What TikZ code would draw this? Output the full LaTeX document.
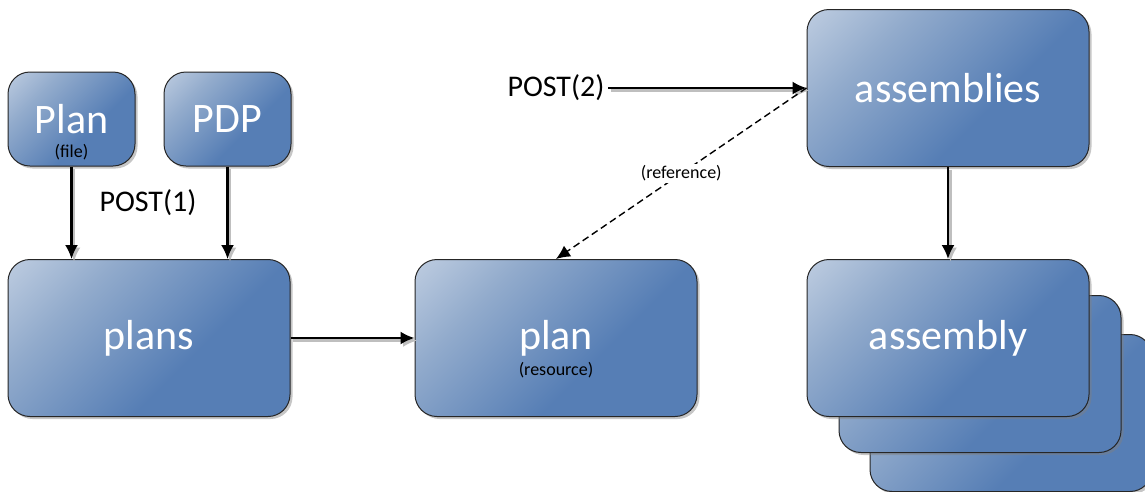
\documentclass[tikz,border=0pt]{standalone}
\usepackage{fontspec}
\setmainfont{Carlito}
\usepackage{tikz}
\usetikzlibrary{arrows,arrows.meta,shapes,shadows,positioning}

\definecolor{boxlight}{RGB}{226,232,241}
\definecolor{boxmid}{RGB}{146,171,204}
\definecolor{boxdark}{RGB}{86,126,181}
\pgfdeclareverticalshading{boxshade}{100bp}{color(0bp)=(boxdark); color(40bp)=(boxdark); color(68bp)=(boxmid); color(100bp)=(boxlight)}

\newcommand{\bigtxt}{\fontsize{42}{44}\selectfont}
\newcommand{\posttxt}{\fontsize{30}{32}\selectfont}
\newcommand{\notetxt}{\fontsize{18}{20}\selectfont}

\begin{document}
\begin{tikzpicture}[x=1pt,y=-1pt,>={Latex[length=14pt,width=13pt]}]

  \tikzstyle{box}=[rectangle,rounded corners=22pt,draw=black!85,line width=1pt,
                   shade,shading=boxshade,shading angle=45,
                   drop shadow={shadow xshift=2.5pt,shadow yshift=-2.5pt,opacity=.45},
                   text=white,font=\bigtxt]
  \tikzstyle{small box}=[box,minimum width=127pt,minimum height=94pt]
  \tikzstyle{big box}=[box,minimum width=282pt,minimum height=157pt]
  \tikzstyle{note}=[font=\notetxt,text=black,inner sep=2pt]
  \tikzstyle{post}=[font=\posttxt,text=black]
  \tikzstyle{link}=[->,line width=2.2pt]

  \useasboundingbox (0,0) rectangle (1145,491);

  % inputs
  \path  (71.5,119)  node[small box] (planfile) {Plan}
         +(0,33)     node[note]      (filetag)  {(file)}
         ++(156,0)   node[small box] (pdp)      {PDP};

  % collections and resources
  \path  (149,338)   node[big box]   (plans)    {plans}
         ++(407,0)   node[big box]   (plan)     {plan}
         +(0,32)     node[note]      (restag)   {(resource)};

  \path  (948,88)    node[big box]   (assemblies) {assemblies};

  \path  (1011,413)  node[big box]   (assembly3) {}
         (980,374)   node[big box]   (assembly2) {}
         (948,338)   node[big box]   (assembly)  {assembly};

  \node[post] (post1) at (148,203) {POST(1)};
  \node[post] (post2) at (556,88)  {POST(2)};

  % connectors, grey shadow first
  \foreach \col/\off in {black!25/2.5pt, black/0pt} {
    \begin{scope}[transform canvas={xshift=\off,yshift=-\off}]
      \draw[link,draw=\col] (planfile) -- (planfile |- plans.north);
      \draw[link,draw=\col] (pdp) -- (pdp |- plans.north);
      \draw[link,draw=\col] (plans) -- (plan);
      \draw[link,draw=\col] (post2) -- (assemblies);
      \draw[link,draw=\col] (assemblies) -- (assembly);
    \end{scope}
  }
  \draw[->,line width=1.4pt,dash pattern=on 7pt off 4pt] (assemblies.west)
        -- node[note,fill=white] (reftag) {(reference)} (plan.north);

\end{tikzpicture}
\end{document}
